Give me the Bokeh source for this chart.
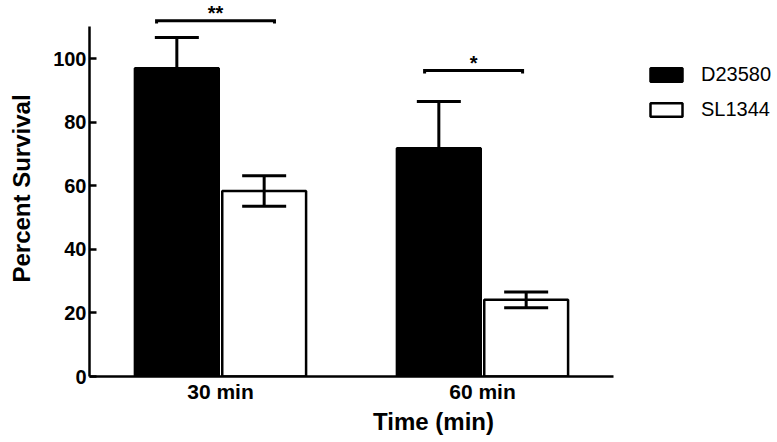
import numpy as np
from bokeh.plotting import figure
from bokeh.models import (ColumnDataSource, Range1d, FixedTicker, LinearAxis, Whisker,
                          TeeHead, Legend, LegendItem)
from bokeh.core.properties import value
from bokeh.embed import file_html
from bokeh.resources import INLINE

# ---------------- data ----------------
groups = ["30 min", "60 min"]
series = ["D23580", "SL1344"]
d23580 = [96.9, 71.8]
d23580_err = [9.7, 14.7]
sl1344 = [58.3, 24.1]
sl1344_err = [4.8, 2.5]

y_ticks = [0, 20, 40, 60, 80, 100]
y_axis_max = 110

# significance brackets (x in group units, y in percent)
brk_left = [0.756, 1.779]
brk_right = [1.206, 2.153]
brk_y = [111.9, 96.2]
brk_labels = ["**", "*"]

# ---------------- layout ----------------
FONT = "Liberation Sans"
W, H = 777, 442
LEFT, BOTTOM = 89, 66
PX_PER_GROUP = 262.0
PX_PER_UNIT = 3.18
frame_w = W - LEFT
frame_h = H - BOTTOM

pos = np.arange(1, len(groups) + 1, dtype=float)
bar_w = 0.32
off = 1.0 / 6.0

p = figure(width=W, height=H,
           x_range=Range1d(0.5, 0.5 + frame_w / PX_PER_GROUP),
           y_range=Range1d(0, frame_h / PX_PER_UNIT),
           output_backend="svg", toolbar_location=None,
           x_axis_type=None, y_axis_type=None,
           min_border_left=LEFT, min_border_right=0,
           min_border_top=0, min_border_bottom=BOTTOM)
p.outline_line_color = None
p.background_fill_color = "white"
p.border_fill_color = "white"

# axes
yaxis = LinearAxis(bounds=(0, y_axis_max), ticker=FixedTicker(ticks=y_ticks, minor_ticks=[]))
yaxis.axis_line_width = 2.5
yaxis.axis_line_color = "black"
yaxis.major_tick_in = 7
yaxis.major_tick_out = 0
yaxis.major_tick_line_width = 2.5
yaxis.minor_tick_line_color = None
yaxis.major_label_standoff = 3
yaxis.major_label_text_font = FONT
yaxis.major_label_text_font_size = "20px"
yaxis.major_label_text_font_style = "bold"
yaxis.major_label_text_color = "black"
yaxis.axis_label = "Percent Survival"
yaxis.axis_label_text_font = FONT
yaxis.axis_label_text_font_size = "24px"
yaxis.axis_label_text_font_style = "bold"
yaxis.axis_label_text_color = "black"
yaxis.axis_label_standoff = 15
p.add_layout(yaxis, "left")

xaxis = LinearAxis(bounds=(0.5, 0.5 + len(groups)),
                   ticker=FixedTicker(ticks=list(pos), minor_ticks=[]),
                   major_label_overrides={int(k): g for k, g in zip(pos, groups)})
xaxis.axis_line_width = 2.5
xaxis.axis_line_color = "black"
xaxis.major_tick_in = 0
xaxis.major_tick_out = 0
xaxis.minor_tick_line_color = None
xaxis.major_label_standoff = 3
xaxis.major_label_text_font = FONT
xaxis.major_label_text_font_size = "21px"
xaxis.major_label_text_font_style = "bold"
xaxis.major_label_text_color = "black"
xaxis.axis_label = "Time (min)"
xaxis.axis_label_text_font = FONT
xaxis.axis_label_text_font_size = "24px"
xaxis.axis_label_text_font_style = "bold"
xaxis.axis_label_text_color = "black"
xaxis.axis_label_standoff = 2
p.add_layout(xaxis, "below")

# bars
r1 = p.vbar(x=pos - off, top=d23580, width=bar_w, fill_color="black",
            line_color="black", line_width=2.5)
r2 = p.vbar(x=pos + off, top=sl1344, width=bar_w, fill_color="white",
            line_color="black", line_width=2.5)

# error bars
for xs, vals, errs in ((pos - off, d23580, d23580_err), (pos + off, sl1344, sl1344_err)):
    src = ColumnDataSource(dict(base=list(xs),
                                upper=[v + e for v, e in zip(vals, errs)],
                                lower=[v - e for v, e in zip(vals, errs)]))
    w = Whisker(base="base", upper="upper", lower="lower", source=src, dimension="height",
                line_color="black", line_width=3, level="annotation",
                upper_head=TeeHead(size=44, line_width=3, line_color="black"),
                lower_head=TeeHead(size=44, line_width=3, line_color="black"))
    p.add_layout(w)

# significance brackets
drop = 0.9
xs = [[a, a, b, b] for a, b in zip(brk_left, brk_right)]
ys = [[y - drop, y, y, y - drop] for y in brk_y]
p.multi_line(xs=xs, ys=ys, line_color="black", line_width=3, line_join="miter")

star_src = ColumnDataSource(dict(x=[(a + b) / 2 for a, b in zip(brk_left, brk_right)],
                                 y=brk_y, text=brk_labels))
p.text(x="x", y="y", text="text", y_offset=-19, source=star_src,
       text_font=value(FONT), text_font_size="20px", text_font_style="bold",
       text_align="center", text_baseline="top", text_color="black")

# legend
legend = Legend(items=[LegendItem(label=series[0], renderers=[r1]),
                       LegendItem(label=series[1], renderers=[r2])],
                location=(557, 255), orientation="vertical",
                padding=0, margin=0, spacing=12,
                glyph_width=40, glyph_height=17, label_standoff=15,
                border_line_color=None, background_fill_alpha=0,
                label_text_font=FONT, label_text_font_size="20px",
                label_text_color="black")
p.add_layout(legend)

open("out.html", "w").write(file_html(p, INLINE))
